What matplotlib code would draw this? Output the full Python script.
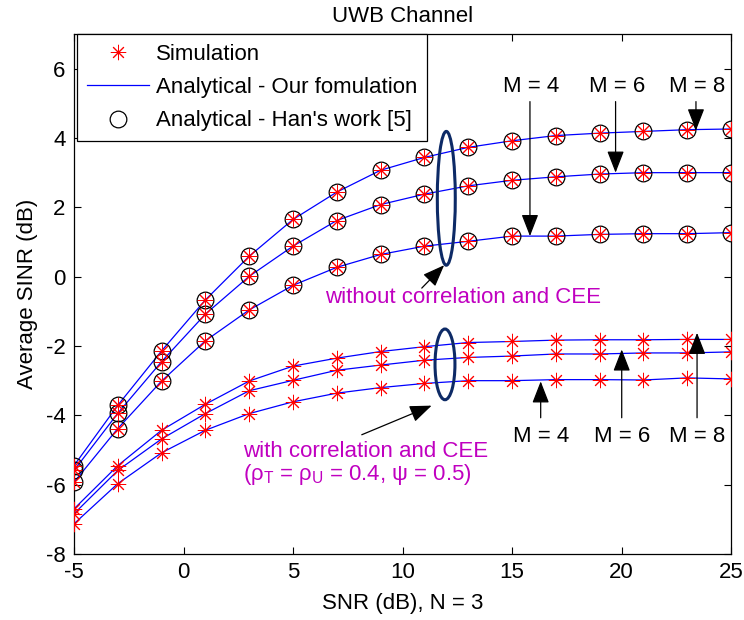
"""Average SINR vs SNR for the UWB channel (MATLAB-style figure)."""

import matplotlib
matplotlib.use("Agg")
import matplotlib.pyplot as plt
from matplotlib.lines import Line2D
from matplotlib.patches import Ellipse, FancyArrowPatch

plt.rcParams["font.family"] = ["Liberation Sans", "DejaVu Sans"]
plt.rcParams["mathtext.fontset"] = "custom"
plt.rcParams["mathtext.rm"] = "Liberation Sans"
plt.rcParams["mathtext.it"] = "Liberation Sans"
plt.rcParams["axes.unicode_minus"] = False

# Data.
snr = [-5, -3, -1, 1, 3, 5, 7, 9, 11, 13, 15, 17, 19, 21, 23, 25]

nocorr_m8 = [-5.45, -3.71, -2.14, -0.67, 0.59, 1.65, 2.44, 3.07, 3.44, 3.73, 3.92, 4.07, 4.14, 4.19, 4.24, 4.26]
nocorr_m6 = [-5.59, -3.94, -2.45, -1.08, 0.01, 0.88, 1.62, 2.08, 2.38, 2.62, 2.78, 2.88, 2.96, 3.00, 3.00, 3.00]
nocorr_m4 = [-5.93, -4.38, -3.01, -1.85, -0.96, -0.25, 0.27, 0.64, 0.88, 1.02, 1.17, 1.17, 1.22, 1.24, 1.24, 1.27]

corr_m8 = [-6.70, -5.45, -4.43, -3.68, -3.01, -2.58, -2.35, -2.16, -2.02, -1.90, -1.87, -1.83, -1.82, -1.82, -1.81, -1.81]
corr_m6 = [-6.84, -5.59, -4.68, -3.95, -3.29, -2.99, -2.70, -2.55, -2.41, -2.33, -2.29, -2.23, -2.23, -2.20, -2.20, -2.17]
corr_m4 = [-7.13, -5.97, -5.08, -4.43, -3.95, -3.61, -3.36, -3.20, -3.08, -3.00, -3.00, -2.97, -2.97, -2.98, -2.92, -2.95]

xticks = [-5, 0, 5, 10, 15, 20, 25]
yticks = [-8, -6, -4, -2, 0, 2, 4, 6]

FS = 16
BLUE = "#0000ff"
RED = "#ff0000"
MAGENTA = "#c000c0"
NAVY = "#0d2a66"
ASTERISK = (8, 2, 0)


def arrow(ax, x1, y1, x2, y2, color="black"):
    ax.add_patch(
        FancyArrowPatch(
            (x1, y1),
            (x2, y2),
            arrowstyle="-|>,head_length=0.9,head_width=0.35",
            mutation_scale=15,
            linewidth=0.9,
            color=color,
            shrinkA=0,
            shrinkB=0,
            zorder=6,
        )
    )


def main() -> None:
    fig = plt.figure(figsize=(7.44, 6.2), dpi=100)
    ax = fig.add_axes([74 / 744, 1 - 554 / 620, 657 / 744, 520 / 620])

    for ys in (nocorr_m8, nocorr_m6, nocorr_m4):
        ax.plot(snr, ys, color=BLUE, lw=0.9, zorder=2)
        ax.plot(snr, ys, ls="none", marker="o", ms=12, mfc="none", mec="black", mew=0.9, zorder=3)
        ax.plot(snr, ys, ls="none", marker=ASTERISK, ms=11, mec=RED, mew=0.7, zorder=4)

    for ys in (corr_m8, corr_m6, corr_m4):
        ax.plot(snr, ys, color=BLUE, lw=0.9, zorder=2)
        ax.plot(snr, ys, ls="none", marker=ASTERISK, ms=11, mec=RED, mew=0.7, zorder=4)

    ax.set_xlim(-5, 25)
    ax.set_ylim(-8, 7)
    ax.set_xticks(xticks)
    ax.set_yticks(yticks)
    ax.tick_params(direction="in", length=5, width=0.8, top=True, right=True, labelsize=FS, pad=6)
    for s in ax.spines.values():
        s.set_linewidth(0.9)

    ax.set_title("UWB Channel", fontsize=FS, pad=9)
    ax.set_xlabel("SNR (dB), N = 3", fontsize=FS, labelpad=7)
    ax.set_ylabel("Average SINR (dB)", fontsize=FS, labelpad=6)

    # Ellipses grouping the curves.
    ax.add_patch(Ellipse((12.0, 2.26), 0.82, 3.86, fill=False, ec=NAVY, lw=2.2, zorder=5))
    ax.add_patch(Ellipse((11.94, -2.53), 0.91, 2.04, fill=False, ec=NAVY, lw=2.2, zorder=5))

    arrow(ax, 10.88, -0.33, 11.9, 0.33)
    arrow(ax, 8.14, -4.56, 11.33, -3.72)

    ax.text(6.46, -0.61, "without correlation and CEE", color=MAGENTA, fontsize=FS, ha="left", va="center")
    ax.text(2.73, -5.04, "with correlation and CEE", color=MAGENTA, fontsize=FS, ha="left", va="center")
    ax.text(2.73, -5.71, r"($\rho_T$ = $\rho_U$ = 0.4, $\psi$ = 0.5)", color=MAGENTA,
            fontsize=FS, ha="left", va="center")

    # M labels, upper group.
    for x, ytip, lab in [(15.82, 1.17, "M = 4"), (19.73, 3.0, "M = 6"), (23.4, 4.22, "M = 8")]:
        ax.text(x + 0.05, 5.48, lab, fontsize=FS, ha="center", va="center")
        arrow(ax, x, 5.05, x, ytip)

    # M labels, lower group.
    for x, ytip, lab in [(16.31, -3.02, "M = 4"), (20.01, -2.1, "M = 6"), (23.45, -1.62, "M = 8")]:
        ax.text(x, -4.61, lab, fontsize=FS, ha="center", va="center")
        arrow(ax, x, -4.07, x, ytip)

    handles = [
        Line2D([], [], ls="none", marker=ASTERISK, ms=11, mec=RED, mew=0.7),
        Line2D([], [], color=BLUE, lw=0.9),
        Line2D([], [], ls="none", marker="o", ms=12, mfc="none", mec="black", mew=0.9),
    ]
    labels = ["Simulation", "Analytical - Our fomulation", "Analytical - Han's work [5]"]
    leg = ax.legend(handles, labels, loc="upper left", bbox_to_anchor=(0.004, 1.0), fontsize=FS,
                    frameon=True, fancybox=False, edgecolor="black", framealpha=1,
                    borderpad=0.45, labelspacing=0.55, handlelength=2.8, handletextpad=0.3,
                    borderaxespad=0)
    leg.get_frame().set_linewidth(0.9)
    leg.set_zorder(10)

    fig.savefig("out.png", dpi=100)
    plt.close(fig)


if __name__ == "__main__":
    main()
